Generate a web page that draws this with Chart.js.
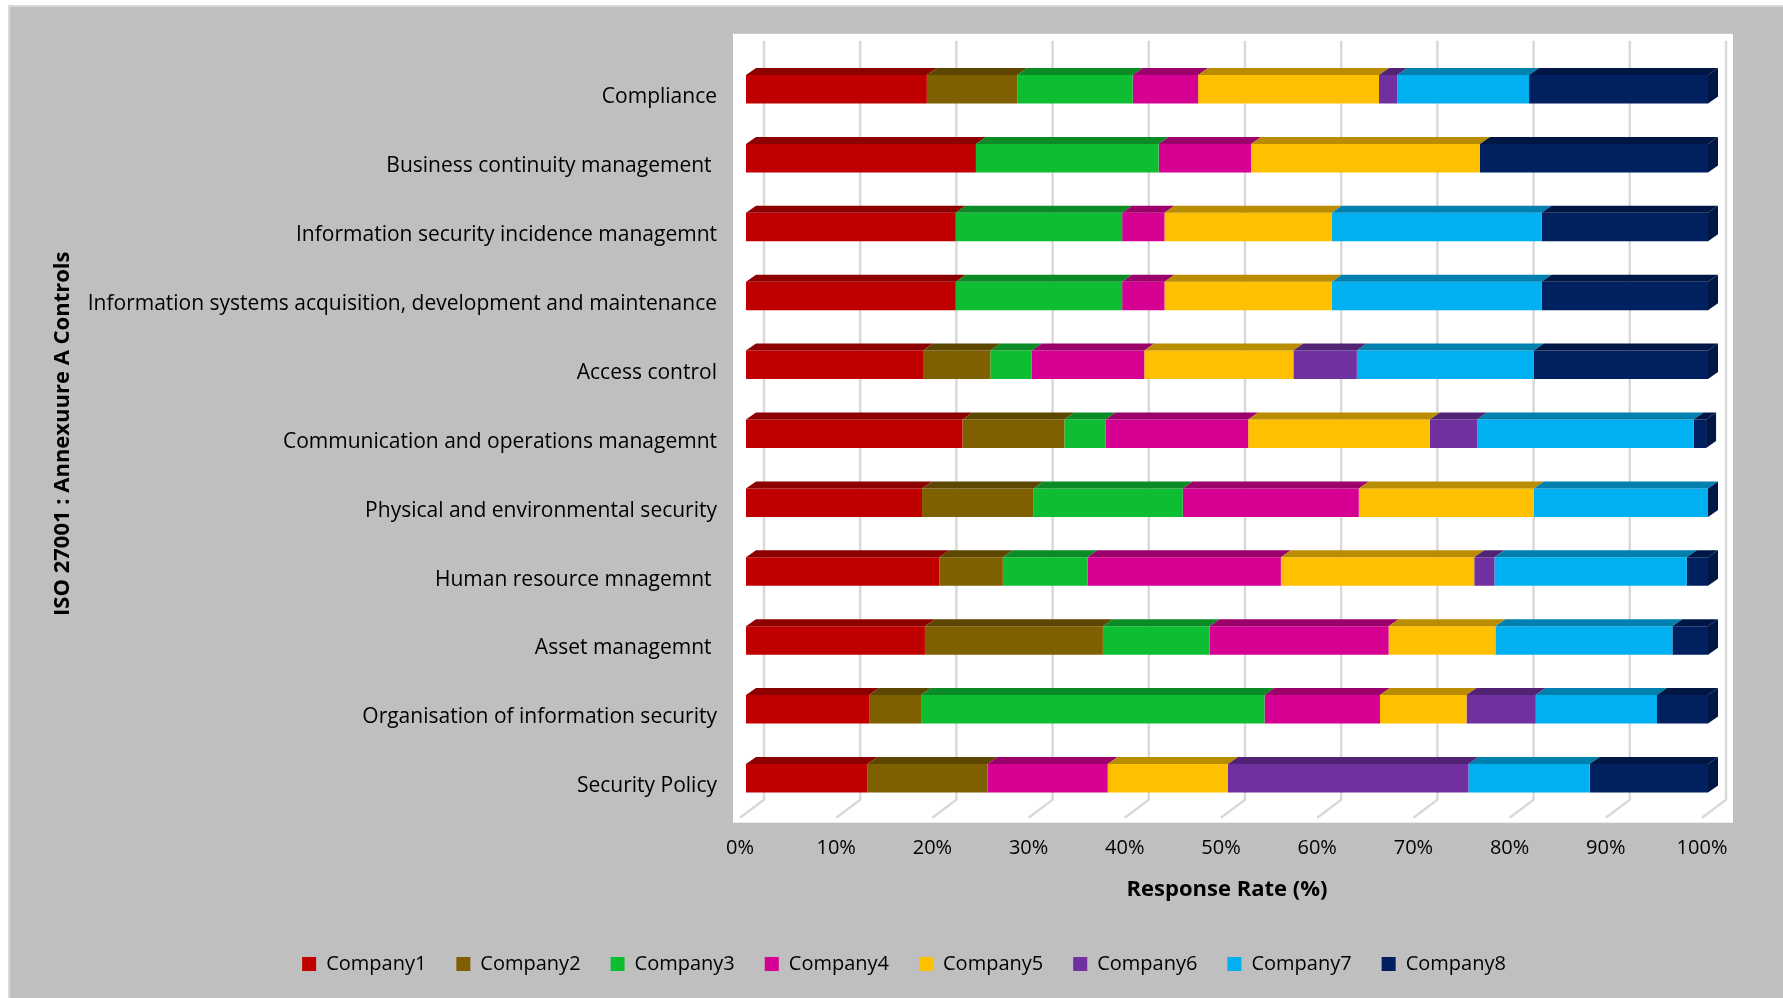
<!DOCTYPE html>
<html>
<head>
<meta charset="utf-8">
<title>ISO 27001 Annexure A controls - response rate</title>
<script src="https://cdn.jsdelivr.net/npm/chart.js@4/dist/chart.umd.min.js"></script>
<style>
  html, body { margin: 0; padding: 0; background: #fff; }
  #frame {
    position: absolute; left: 8px; top: 5px; width: 1775px; height: 993px;
    box-sizing: border-box; background: #bfbfbf;
    border-left: 2px solid #d9d9d9; border-top: 2px solid #d9d9d9;
  }
  #chart { position: absolute; left: 0; top: 0; }
</style>
</head>
<body>
<div id="frame"></div>
<canvas id="chart" width="1783" height="998"></canvas>
<script>
const controls = [
  'Compliance',
  'Business continuity management ',
  'Information security incidence managemnt',
  'Information systems acquisition, development and maintenance',
  'Access control',
  'Communication and operations managemnt',
  'Physical and environmental security',
  'Human resource mnagemnt ',
  'Asset managemnt ',
  'Organisation of information security',
  'Security Policy'
]

const companies = ['Company1', 'Company2', 'Company3', 'Company4', 'Company5', 'Company6', 'Company7', 'Company8']

// response share (%) per control, same order as controls
const company1 = [18.8, 23.9, 21.8, 21.8, 18.4, 22.5, 18.3, 20.1, 18.6, 12.8, 12.6]
const company2 = [9.4, 0, 0, 0, 7.0, 10.6, 11.6, 6.6, 18.5, 5.4, 12.5]
const company3 = [12.0, 19.0, 17.3, 17.3, 4.3, 4.3, 15.5, 8.8, 11.1, 35.7, 0]
const company4 = [6.8, 9.6, 4.4, 4.4, 11.7, 14.8, 18.3, 20.1, 18.6, 12.0, 12.5]
const company5 = [18.8, 23.8, 17.4, 17.4, 15.5, 18.9, 18.2, 20.1, 11.1, 9.0, 12.5]
const company6 = [1.9, 0, 0, 0, 6.6, 4.9, 0, 2.1, 0, 7.2, 25.0]
const company7 = [13.7, 0, 21.8, 21.8, 18.4, 22.5, 18.1, 20.0, 18.4, 12.6, 12.6]
const company8 = [18.7, 23.7, 17.3, 17.3, 18.2, 1.3, 0, 2.2, 3.7, 5.3, 12.4]

const xTickValues = [0, 10, 20, 30, 40, 50, 60, 70, 80, 90, 100]

const series = [company1, company2, company3, company4, company5, company6, company7, company8]
const colors = ['#c00000', '#7f6000', '#0ebe32', '#d60092', '#ffc000', '#7030a0', '#00b0f0', '#002060']

const FONT = "'Open Sans', sans-serif"
const DEPTH_X = 10
const DEPTH_Y = 7

function shade(hex, f) {
  const n = parseInt(hex.slice(1), 16)
  const r = Math.round(((n >> 16) & 255) * f)
  const g = Math.round(((n >> 8) & 255) * f)
  const b = Math.round((n & 255) * f)
  return `rgb(${r}, ${g}, ${b})`
}

// white plot wall plus the back-wall / floor grid lines
const plotWall = {
  id: 'plotWall',
  beforeDraw(chart) {
    const { ctx, chartArea: a } = chart
    ctx.save()
    ctx.fillStyle = '#ffffff'
    ctx.fillRect(a.left - 13, a.top - 21, a.right - a.left + 38, a.bottom - a.top + 31)
    ctx.restore()
  },
  beforeDatasetsDraw(chart) {
    const { ctx, chartArea: a, scales } = chart
    ctx.save()
    ctx.strokeStyle = '#d9d9d9'
    ctx.lineWidth = 2.5
    xTickValues.forEach(v => {
      const px = scales.x.getPixelForValue(v)
      ctx.beginPath()
      ctx.moveTo(px + 18, a.top - 14)
      ctx.lineTo(px + 18, a.bottom - 13)
      ctx.lineTo(px - 6, a.bottom + 5)
      ctx.stroke()
    })
    ctx.restore()
  }
}

// top faces of every segment and the end cap of each row
const barDepth = {
  id: 'barDepth',
  afterDatasetsDraw(chart) {
    const { ctx, chartArea } = chart
    const metas = chart.getSortedVisibleDatasetMetas()
    ctx.save()
    metas.forEach(meta => {
      ctx.fillStyle = shade(colors[meta.index], 0.73)
      meta.data.forEach(bar => {
        const { x, y, base, height } = bar.getProps(['x', 'y', 'base', 'height'], true)
        if (Math.abs(x - base) < 0.5) return
        const top = y - height / 2
        const x0 = Math.min(x, base)
        const x1 = Math.min(Math.max(x, base), chartArea.right)
        ctx.beginPath()
        ctx.moveTo(x0, top)
        ctx.lineTo(x1, top)
        ctx.lineTo(x1 + DEPTH_X, top - DEPTH_Y)
        ctx.lineTo(x0 + DEPTH_X, top - DEPTH_Y)
        ctx.closePath()
        ctx.fill()
      })
    })
    const last = metas[metas.length - 1]
    ctx.fillStyle = shade(colors[colors.length - 1], 0.72)
    last.data.forEach(bar => {
      const { y, height } = bar.getProps(['y', 'height'], true)
      const x = Math.min(bar.getProps(['x'], true).x, chartArea.right)
      const top = y - height / 2
      const bottom = y + height / 2
      ctx.beginPath()
      ctx.moveTo(x, top)
      ctx.lineTo(x + DEPTH_X, top - DEPTH_Y)
      ctx.lineTo(x + DEPTH_X, bottom - DEPTH_Y)
      ctx.lineTo(x, bottom)
      ctx.closePath()
      ctx.fill()
    })
    ctx.restore()
  }
}

new Chart(document.getElementById('chart'), {
  type: 'bar',
  data: {
    labels: controls,
    datasets: companies.map((name, i) => ({
      label: name,
      data: series[i],
      backgroundColor: colors[i],
      borderWidth: 0,
      categoryPercentage: 0.414,
      barPercentage: 1
    }))
  },
  options: {
    indexAxis: 'y',
    responsive: false,
    animation: false,
    devicePixelRatio: 1,
    events: [],
    layout: {
      padding: { left: 60, right: 35, top: 54.8, bottom: 14 }
    },
    scales: {
      x: {
        stacked: true,
        min: 0,
        max: 100,
        grid: { display: false, drawTicks: false },
        border: { display: false },
        afterBuildTicks: scale => {
          scale.ticks = xTickValues.map(v => ({ value: v }))
        },
        afterFit: scale => { scale.height = 111.3 },
        ticks: {
          callback: v => v + '%',
          color: '#000',
          font: { family: FONT, size: 20 },
          padding: 24,
          labelOffset: -6,
          maxRotation: 0
        },
        title: {
          display: true,
          text: 'Response Rate (%)',
          color: '#000',
          font: { family: FONT, size: 22, weight: 'bold' },
          padding: { bottom: 20.8 }
        }
      },
      y: {
        stacked: true,
        grid: { display: false, drawTicks: false },
        border: { display: false },
        afterFit: scale => { scale.width = 686 },
        ticks: {
          autoSkip: false,
          color: '#000',
          font: { family: FONT, size: 21 },
          padding: 29,
          labelOffset: 8
        },
        title: {
          display: true,
          text: 'ISO 27001 : Annexuure A Controls',
          color: '#000',
          font: { family: FONT, size: 22, weight: 'bold' },
          padding: { top: -10.7 }
        }
      },
      // empty strip on the right of the plot wall
      gutter: {
        type: 'linear',
        position: 'right',
        grid: { display: false, drawTicks: false },
        border: { display: false },
        ticks: { display: false },
        afterFit: scale => { scale.width = 40 }
      }
    },
    plugins: {
      legend: {
        position: 'bottom',
        labels: {
          boxWidth: 14,
          boxHeight: 14,
          padding: 30,
          color: '#000',
          font: { family: FONT, size: 20 }
        }
      },
      tooltip: { enabled: false }
    }
  },
  plugins: [plotWall, barDepth]
})
</script>
</body>
</html>
